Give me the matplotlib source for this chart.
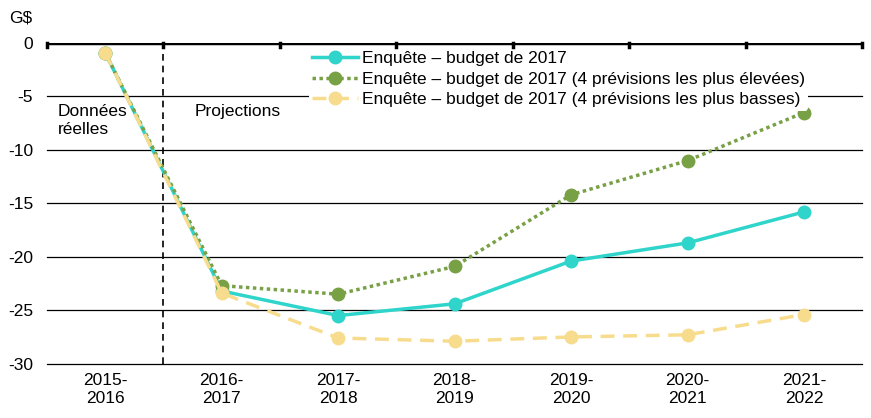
import matplotlib
matplotlib.use('Agg')
import matplotlib.pyplot as plt

plt.rcParams['font.family'] = ['Liberation Sans', 'DejaVu Sans']

years = ['2015-\n2016', '2016-\n2017', '2017-\n2018', '2018-\n2019',
         '2019-\n2020', '2020-\n2021', '2021-\n2022']
survey = [-0.9, -23.2, -25.5, -24.4, -20.4, -18.7, -15.8]
high4 = [-0.9, -22.7, -23.5, -20.9, -14.2, -11.0, -6.5]
low4 = [-0.9, -23.4, -27.6, -27.9, -27.5, -27.3, -25.4]

teal = '#2fd4cb'
green = '#78a044'
yellow = '#f8dc8e'
fs = 12.5

fig, ax = plt.subplots(figsize=(8.71, 4.18), dpi=100)
fig.subplots_adjust(left=0.054, right=0.99, top=0.897, bottom=0.13)

x = list(range(len(years)))

# gridlines
for v in [-5, -10, -15, -20, -25, -30]:
    ax.axhline(v, color='black', lw=0.9, zorder=0, clip_on=False)

ax.plot(x, survey, color=teal, lw=2.5, marker='o', ms=9, zorder=2,
        label='Enquête – budget de 2017')
ax.plot(x, high4, color=green, lw=2.5, ls=(0, (1, 1)), marker='o', ms=9, zorder=3,
        label='Enquête – budget de 2017 (4 prévisions les plus élevées)')
ax.plot(x, low4, color=yellow, lw=2.5, ls=(0, (4, 2.5)), marker='o', ms=9, zorder=4,
        label='Enquête – budget de 2017 (4 prévisions les plus basses)')

ax.axvline(0.5, color='black', lw=1.2, ls=(0, (4, 3)), zorder=1)

ax.set_xlim(-0.5, 6.5)
ax.set_ylim(-30, 0)
ax.set_yticks([0, -5, -10, -15, -20, -25, -30])
ax.set_yticklabels(['0', '-5', '-10', '-15', '-20', '-25', '-30'], fontsize=fs)
ax.tick_params(axis='y', length=0, pad=10)

ax.set_xticks(x)
ax.set_xticklabels(years, fontsize=fs, linespacing=1.25)
ax.tick_params(axis='x', length=0, pad=7)

# category boundary ticks on the zero line
ax.axhline(0, color='black', lw=2.5, zorder=7)
for b in [i - 0.5 for i in range(len(years) + 1)]:
    ax.plot([b, b], [0, -0.35], color='black', lw=2.5, zorder=7, clip_on=False)

for s in ax.spines.values():
    s.set_visible(False)

ax.text(-0.405, -5.7, 'Données\nréelles', fontsize=fs, va='top', ha='left',
        linespacing=1.25)
ax.text(0.77, -5.7, 'Projections', fontsize=fs, va='top', ha='left')
fig.text(0.011, 0.976, 'G$', fontsize=fs, va='top', ha='left')

leg = ax.legend(loc='upper left', bbox_to_anchor=(0.321, 0.985), fontsize=fs,
                frameon=True, facecolor='white', edgecolor='none', framealpha=1,
                handlelength=2.65, handletextpad=0.2, borderpad=0.2,
                labelspacing=0.3, borderaxespad=0)
leg.get_frame().set_linewidth(0)
leg.set_zorder(6)

fig.savefig('out.png', dpi=100)
